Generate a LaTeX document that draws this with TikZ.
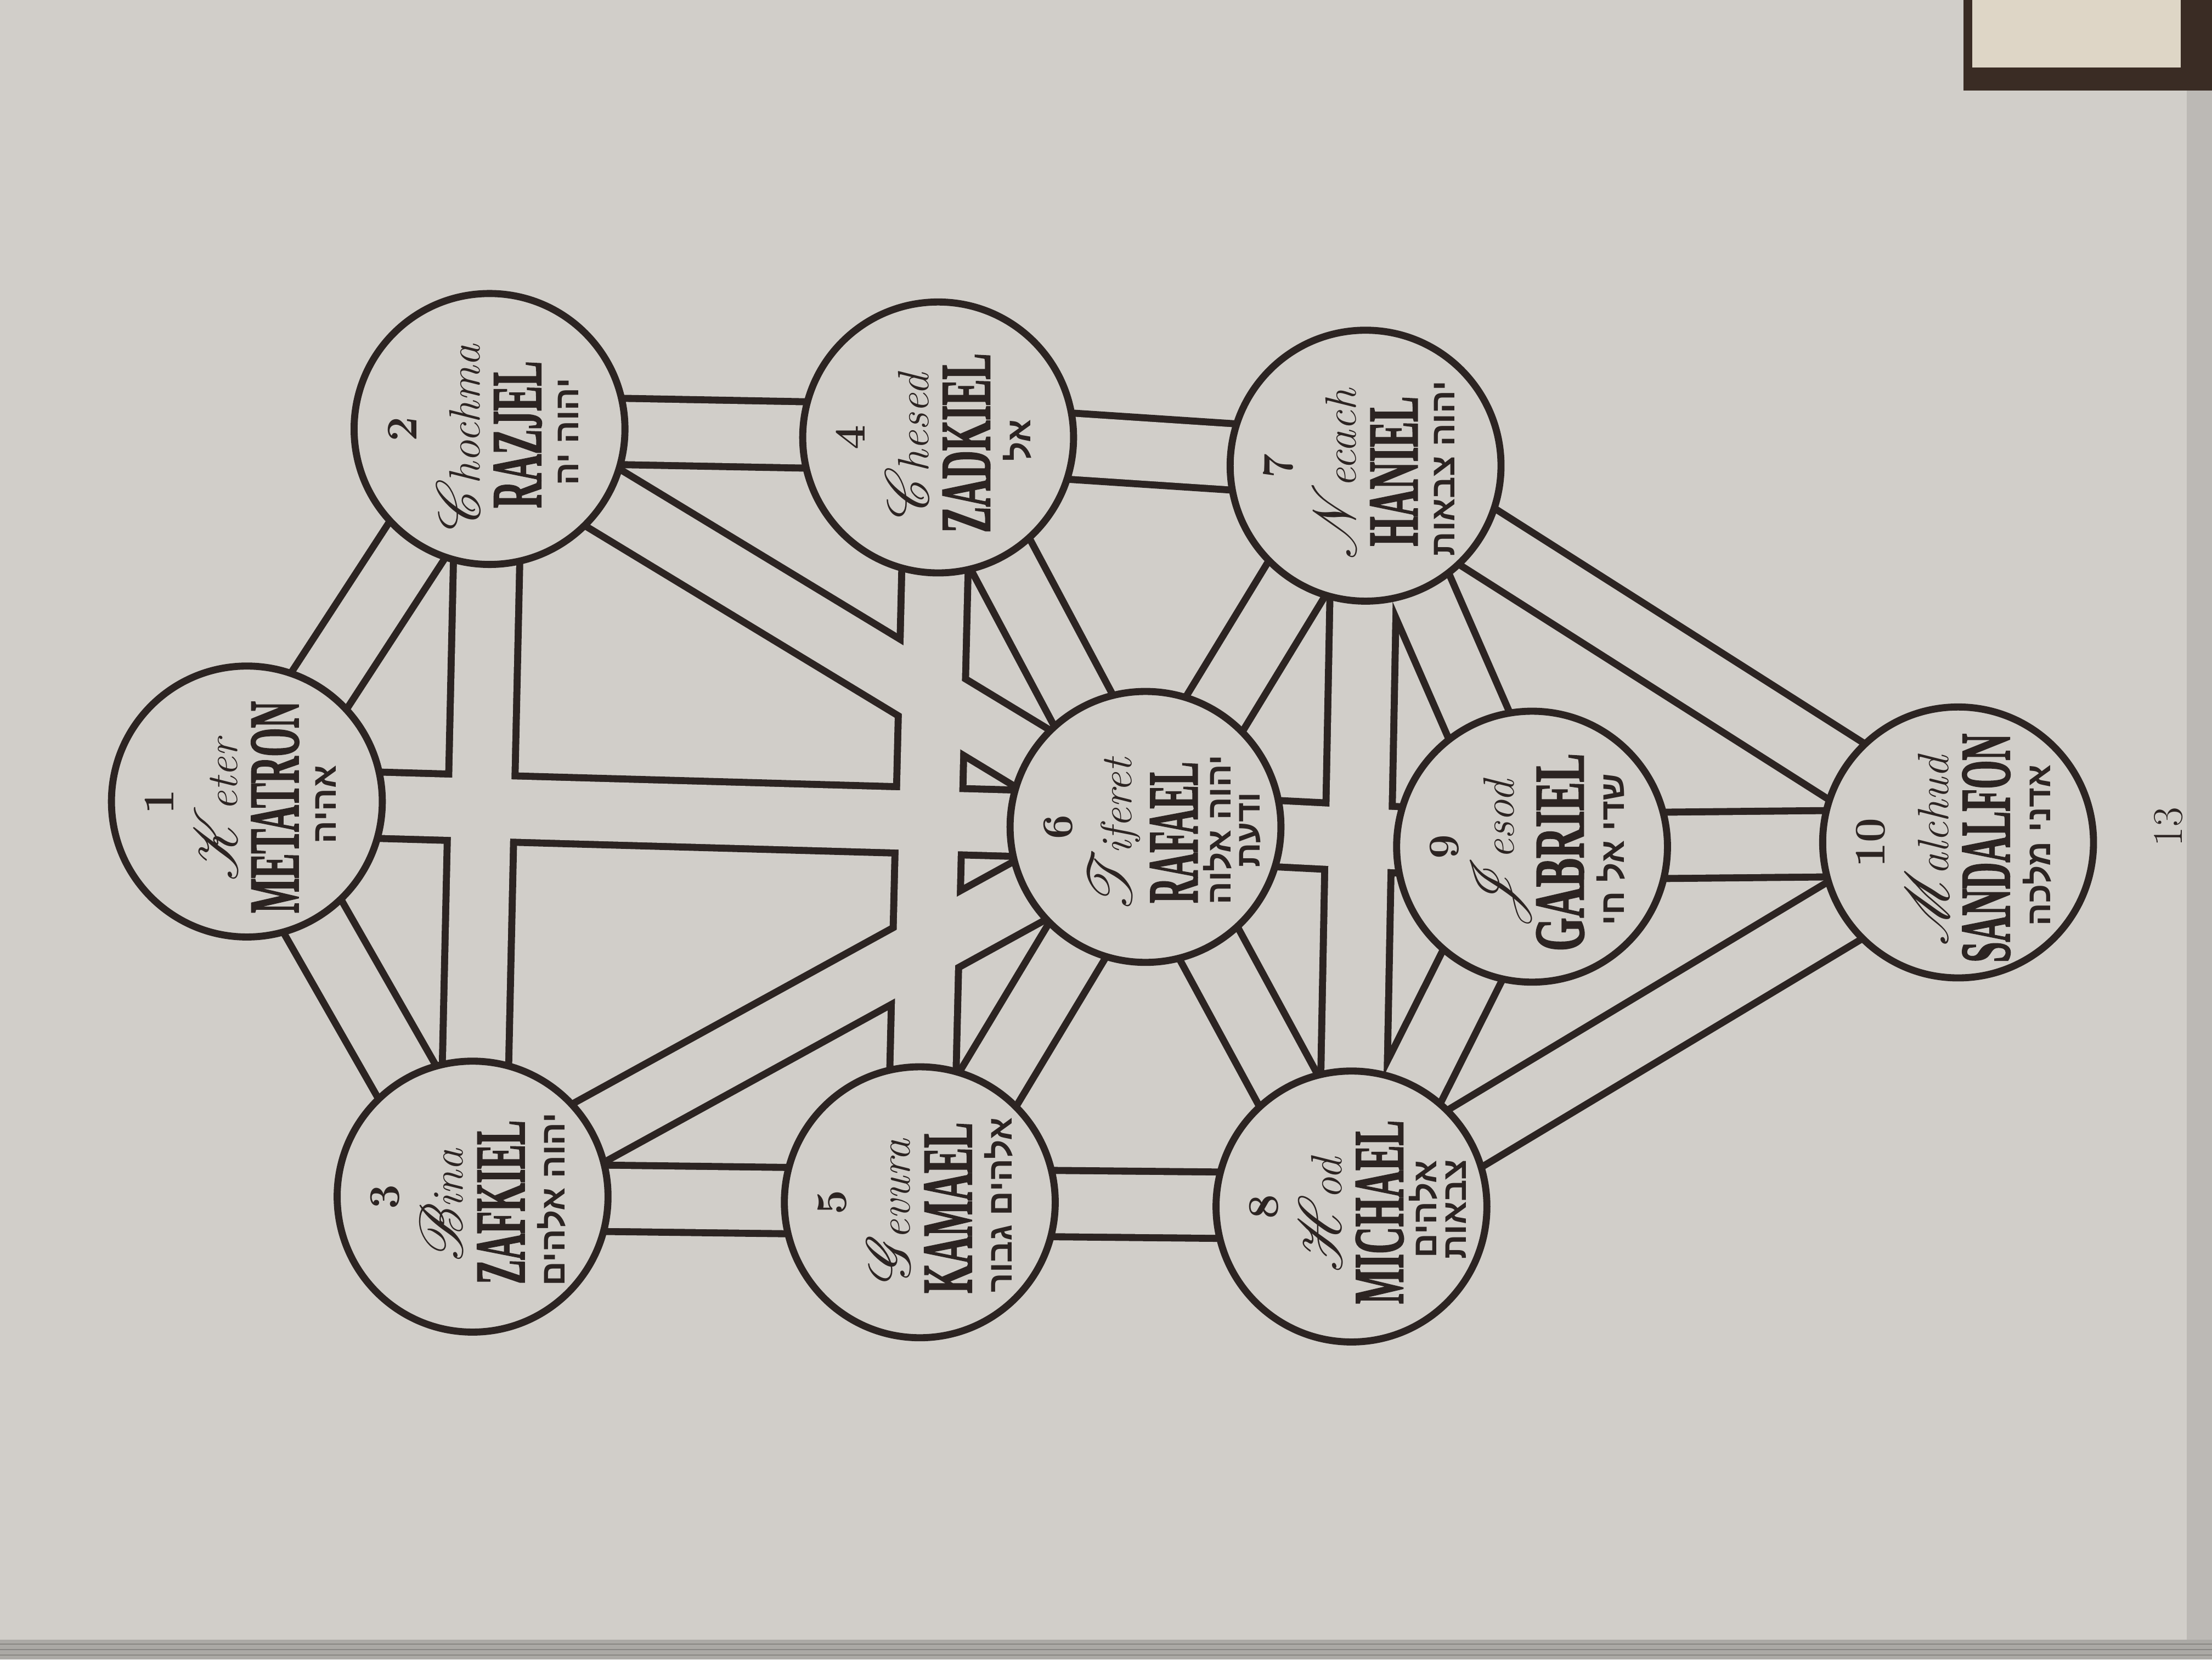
\documentclass[tikz,border=0pt]{standalone}
\usepackage{fontspec}
\usepackage{graphicx}
\usepackage{mathrsfs}
\usetikzlibrary{calc}
\TeXXeTstate=1
\newfontfamily\hebfont[Script=Hebrew]{Liberation Sans}
\newfontfamily\capsfont[FakeBold=2.5]{Liberation Serif}
\definecolor{paper}{RGB}{209,206,201}
\definecolor{ink}{RGB}{44,36,34}
\definecolor{wood}{RGB}{58,44,36}
\definecolor{card}{RGB}{222,214,198}

\tikzset{
  pipeouter/.style={line width=52pt, draw=ink, line cap=butt},
  pipeinner/.style={line width=42pt, draw=paper, line cap=butt},
  disc/.style={circle, minimum size=192pt, inner sep=0pt, draw=ink, line width=5pt, fill=paper},
  numtext/.style={rotate=90, text=ink, inner sep=0pt, font=\fontsize{31}{32}\selectfont\bfseries},
  scripttext/.style={rotate=90, text=ink, inner sep=0pt, font=\fontsize{31}{34}\selectfont\itshape},
  nametext/.style={rotate=90, text=ink, inner sep=0pt},
  hebtext/.style={rotate=90, text=ink, inner sep=0pt, font=\hebfont\bfseries\fontsize{24}{25}\selectfont},
}

% flourished capital followed by the rest of the word in italics
\newcommand\flourish[2]{\scalebox{1.75}{$\mathscr{#1}$}\kern-0.12em#2}

% #1 id, #2 number, #3 script capital, #4 script rest, #5 angel, #6 angel length,
% #7 first Hebrew line, #8 second Hebrew line (may be empty)
\newcommand\sefira[8]{%
  \node[disc] (s#1) at (c#1) {};
  \node[numtext] (n#1) at ($(c#1)+(-62,0)$) {#2};
  \node[scripttext] (w#1) at ($(c#1)+(-22,6)$) {\flourish{#3}{#4}};
  \node[nametext] (a#1) at ($(c#1)+(20,4)$) {\resizebox{#6pt}{33pt}{\capsfont\bfseries #5}};
  \ifx\relax#8\relax
    \node[hebtext] (h#1) at ($(c#1)+(56,2)$) {#7};
  \else
    \node[hebtext] (h#1) at ($(c#1)+(51,2)$) {#7};
    \node[hebtext] (k#1) at ($(c#1)+(74,2)$) {#8};
  \fi
}

\begin{document}
\begin{tikzpicture}[x=1pt, y=-1pt]
\useasboundingbox (0,0) rectangle (1568,1176);

% the page and its surroundings
\fill[paper] (0,0) rectangle (1568,1176);
\fill[wood] (1392,0) rectangle (1568,64);
\fill[card] (1398,0) rectangle (1546,48);
\fill[paper!90!black] (1550,64) rectangle (1568,1176);
\fill[paper!82!black] (0,1162) rectangle (1568,1176);
\foreach \yy in {1165,1169,1173}
  \draw[paper!65!black, line width=0.8pt] (0,\yy) -- (1568,\yy);

% centres of the ten spheres
\coordinate (c1) at (175,568);
\coordinate (c2) at (347,304);
\coordinate (c3) at (335,848);
\coordinate (c4) at (665,310);
\coordinate (c5) at (652,852);
\coordinate (c6) at (812,586);
\coordinate (c7) at (968,330);
\coordinate (c8) at (958,855);
\coordinate (c9) at (1086,600);
\coordinate (c10) at (1388,597);

% the twenty-two paths, drawn as hollow channels that merge where they cross
\foreach \a/\b in {1/2,1/3,1/6,2/3,2/4,2/6,3/5,3/6,4/5,4/6,4/7,5/6,5/8,6/7,6/8,6/9,7/8,7/9,7/10,8/9,8/10,9/10}
  \draw[pipeouter] (c\a) -- (c\b);
\foreach \a/\b in {1/2,1/3,1/6,2/3,2/4,2/6,3/5,3/6,4/5,4/6,4/7,5/6,5/8,6/7,6/8,6/9,7/8,7/9,7/10,8/9,8/10,9/10}
  \draw[pipeinner] (c\a) -- (c\b);

% the spheres with their inscriptions
\sefira{1}{1}{K}{eter}{METATRON}{150}{\beginR אהיה\endR}{}
\sefira{2}{2}{C}{hochma}{RAZJEL}{104}{\beginR יהוה יה\endR}{}
\sefira{3}{3}{B}{ina}{ZAFKIEL}{116}{\beginR יהוה אלהים\endR}{}
\sefira{4}{4}{C}{hesed}{ZADKIEL}{127}{\beginR אל\endR}{}
\sefira{5}{5}{G}{evura}{KAMAEL}{121}{\beginR אלהים גבור\endR}{}
\sefira{6}{6}{T}{iferet}{RAFAEL}{100}{\beginR יהוה אלוה\endR}{\beginR ודעת\endR}
\sefira{7}{7}{N}{ecach}{HANIEL}{106}{\beginR יהוה צבאות\endR}{}
\sefira{8}{8}{H}{od}{MICHAEL}{130}{\beginR אלהים\endR}{\beginR צבאות\endR}
\sefira{9}{9}{J}{esod}{GABRIEL}{140}{\beginR שדי אל חי\endR}{}
\sefira{10}{10}{M}{alchud}{SANDALFON}{162}{\beginR אדני מלכה\endR}{}

% page number
\node[numtext, font=\fontsize{30}{32}\selectfont] (pg) at (1537,586) {13};
\end{tikzpicture}
\end{document}
